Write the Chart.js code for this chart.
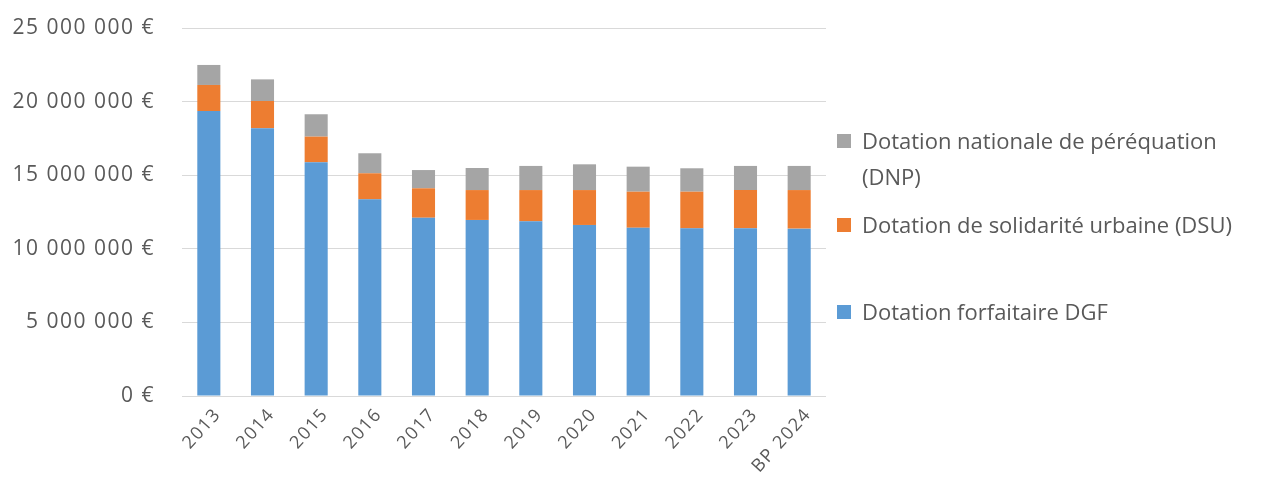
<!DOCTYPE html>
<html>
<head>
<meta charset="utf-8">
<script src="https://cdn.jsdelivr.net/npm/chart.js@4"></script>
<style>
  html, body { margin: 0; padding: 0; background: #fff; }
  #wrap { position: relative; width: 1267px; height: 491px; }
  #legend { position: absolute; left: 837px; top: 0; width: 430px;
            font-family: 'Open Sans', sans-serif; font-size: 22px; color: #595959; }
  .item { position: absolute; left: 0; display: flex; align-items: flex-start; }
  .box { width: 14px; height: 14px; margin: 12px 11px 0 0; flex: none; }
  .txt { width: 400px; line-height: 36px; }
</style>
</head>
<body>
<div id="wrap">
  <canvas id="chart" width="1267" height="491"></canvas>
  <div id="legend"></div>
</div>
<script>
const years = ['2013', '2014', '2015', '2016', '2017', '2018', '2019', '2020', '2021', '2022', '2023', 'BP 2024'];
// valeurs (euros)
const dgf = [19360000, 18190000, 15880000, 13360000, 12110000, 11960000, 11870000, 11620000, 11430000, 11390000, 11390000, 11370000];
const dsu = [1770000, 1850000, 1740000, 1770000, 2000000, 2030000, 2120000, 2370000, 2450000, 2490000, 2600000, 2620000];
const dnp = [1360000, 1470000, 1520000, 1360000, 1240000, 1500000, 1640000, 1750000, 1700000, 1590000, 1640000, 1640000];
const yTicks = [0, 5000000, 10000000, 15000000, 20000000, 25000000];

const textColor = '#595959';

const fmt = v => v.toLocaleString('fr-FR').replace(/[\u202f\u00a0]/g, ' ') + ' €';

// un peu d'espacement entre les lettres, comme le rendu Excel
const spacing = {
    id: 'spacing',
    beforeDraw: c => { c.ctx.letterSpacing = '1.5px'; }
};

const chart = new Chart(document.getElementById('chart').getContext('2d'), {
    type: 'bar',
    data: {
        labels: years,
        datasets: [
            { label: 'Dotation forfaitaire DGF', data: dgf, backgroundColor: '#5b9bd5' },
            { label: 'Dotation de solidarité urbaine (DSU)', data: dsu, backgroundColor: '#ed7d31' },
            { label: 'Dotation nationale de péréquation (DNP)', data: dnp, backgroundColor: '#a5a5a5' }
        ]
    },
    plugins: [spacing],
    options: {
        responsive: false,
        animation: false,
        layout: { padding: { top: 28, right: 441, left: 0, bottom: 0 } },
        datasets: { bar: { barPercentage: 0.43, categoryPercentage: 1 } },
        plugins: { legend: { display: false }, tooltip: { enabled: false } },
        scales: {
            x: {
                stacked: true,
                grid: { display: false },
                border: { display: false },
                ticks: { color: textColor, font: { family: 'Open Sans, sans-serif', size: 18 },
                         minRotation: 48, maxRotation: 48, padding: 0, labelOffset: 9 },
                afterFit: s => { s.height = 95; }
            },
            y: {
                stacked: true,
                min: 0,
                max: 25000000,
                afterBuildTicks: s => { s.ticks = yTicks.map(v => ({ value: v })); },
                grid: { color: '#d9d9d9', drawTicks: false },
                border: { display: false },
                ticks: { color: textColor, font: { family: 'Open Sans, sans-serif', size: 21 },
                         padding: 27, callback: v => fmt(v) },
                afterFit: s => { s.width = 182; s.paddingTop = 0; s.paddingBottom = 0; }
            }
        }
    }
});

// légende à droite, ordre inversé comme dans l'original
const legend = document.getElementById('legend');
const tops = [122, 206, 293];
chart.data.datasets.slice().reverse().forEach((ds, i) => {
    const item = document.createElement('div');
    item.className = 'item';
    item.style.top = tops[i] + 'px';
    item.innerHTML = '<div class="box" style="background:' + ds.backgroundColor + '"></div><div class="txt">' + ds.label + '</div>';
    legend.appendChild(item);
});
</script>
</body>
</html>
